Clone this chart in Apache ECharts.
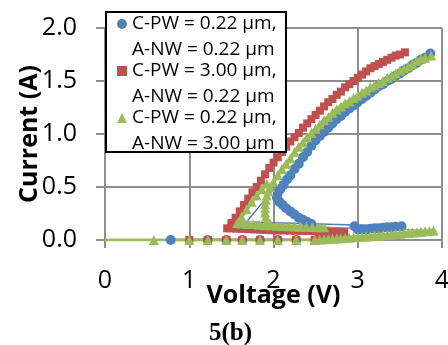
<!DOCTYPE html>
<html>
<head>
<meta charset="utf-8">
<script src="https://cdn.jsdelivr.net/npm/echarts@6/dist/echarts.min.js"></script>
<style>
  html, body { margin: 0; padding: 0; background: #fff; }
  #chart { width: 448px; height: 345px; }
</style>
</head>
<body>
<div id="chart"></div>
<script>
// TLP I-V curves, values as [voltage (V), current (A)]
const xTicks = [0, 1, 2, 3, 4];
const yTicks = [0, 0.5, 1.0, 1.5, 2.0];

const legendLabels = {
  blue: 'C-PW = 0.22 µm,\nA-NW = 0.22 µm',
  red: 'C-PW = 3.00 µm,\nA-NW = 0.22 µm',
  green: 'C-PW = 0.22 µm,\nA-NW = 3.00 µm'
};

// C-PW = 0.22, A-NW = 0.22 (blue)
const blueBase = [[0.78, 0], [1.22, 0], [1.44, 0], [1.63, 0], [1.84, 0], [2.05, 0], [2.27, 0]];
const blueJump = [[3.52, 0.13], [1.68, 0.17], [2.0, 0.48]];
const blueRamp = [[2.96, 0.13], [3.0, 0.1], [3.05, 0.1], [3.1, 0.1], [3.15, 0.105], [3.2, 0.11], [3.25, 0.11],
  [3.3, 0.115], [3.35, 0.12], [3.4, 0.12], [3.45, 0.125], [3.52, 0.13]];
const blueMain = [[2.45, 0.15], [2.4, 0.17], [2.35, 0.19], [2.3, 0.21], [2.25, 0.24], [2.2, 0.27], [2.15, 0.3],
  [2.11, 0.33], [2.07, 0.36], [2.04, 0.4], [2.05, 0.44], [2.08, 0.48], [2.12, 0.52], [2.16, 0.57], [2.2, 0.61],
  [2.25, 0.67], [2.3, 0.72], [2.35, 0.78], [2.4, 0.83], [2.45, 0.89], [2.5, 0.94], [2.55, 0.98], [2.6, 1.02],
  [2.65, 1.06], [2.7, 1.1], [2.75, 1.14], [2.8, 1.17], [2.85, 1.21], [2.9, 1.24], [2.95, 1.27], [3.0, 1.3],
  [3.05, 1.33], [3.1, 1.36], [3.15, 1.39], [3.2, 1.42], [3.25, 1.45], [3.3, 1.47], [3.35, 1.5], [3.4, 1.52],
  [3.45, 1.55], [3.5, 1.57], [3.55, 1.6], [3.6, 1.62], [3.65, 1.65], [3.7, 1.67], [3.75, 1.7], [3.8, 1.72],
  [3.86, 1.76]];

// C-PW = 3.00, A-NW = 0.22 (red)
const redBase = [[1.0, 0], [1.22, 0], [1.44, 0], [1.63, 0], [1.84, 0], [2.05, 0], [2.27, 0], [2.49, 0]];
const redMain = [[2.49, 0], [2.53, 0.01], [2.57, 0.02], [2.61, 0.03], [2.65, 0.045], [2.69, 0.055], [2.73, 0.065],
  [2.78, 0.07], [2.84, 0.075], [2.78, 0.078], [2.7, 0.08], [2.62, 0.08], [2.55, 0.082], [2.48, 0.083],
  [2.4, 0.085], [2.33, 0.086], [2.26, 0.087], [2.19, 0.088], [2.12, 0.09], [2.05, 0.09], [1.98, 0.092],
  [1.91, 0.095], [1.84, 0.097], [1.77, 0.1], [1.7, 0.102], [1.63, 0.105], [1.56, 0.107], [1.5, 0.11],
  [1.45, 0.11], [1.5, 0.16], [1.55, 0.21], [1.6, 0.27], [1.65, 0.33], [1.7, 0.39], [1.75, 0.45], [1.8, 0.5],
  [1.85, 0.56], [1.9, 0.62], [1.95, 0.68], [2.0, 0.73], [2.05, 0.78], [2.1, 0.83], [2.15, 0.88], [2.2, 0.93],
  [2.25, 0.97], [2.3, 1.01], [2.35, 1.06], [2.4, 1.1], [2.45, 1.14], [2.5, 1.18], [2.55, 1.22], [2.6, 1.26],
  [2.65, 1.3], [2.7, 1.33], [2.75, 1.37], [2.8, 1.4], [2.85, 1.44], [2.9, 1.47], [2.95, 1.5], [3.0, 1.53],
  [3.05, 1.56], [3.1, 1.59], [3.15, 1.62], [3.2, 1.64], [3.25, 1.66], [3.3, 1.68], [3.35, 1.7], [3.4, 1.72],
  [3.45, 1.74], [3.5, 1.75], [3.56, 1.77]];

// C-PW = 0.22, A-NW = 3.00 (green)
const greenBase = [[0, 0], [0.58, 0], [1.0, 0], [1.22, 0], [1.44, 0], [1.63, 0], [1.84, 0], [2.05, 0], [2.27, 0], [2.49, 0]];
const greenRamp = [[2.49, 0], [2.55, 0.005], [2.6, 0.008], [2.65, 0.01], [2.7, 0.012], [2.75, 0.015], [2.8, 0.017],
  [2.85, 0.02], [2.9, 0.022], [2.95, 0.025], [3.0, 0.028], [3.05, 0.03], [3.1, 0.033], [3.15, 0.036], [3.2, 0.04],
  [3.25, 0.043], [3.3, 0.046], [3.35, 0.05], [3.4, 0.053], [3.45, 0.056], [3.5, 0.06], [3.55, 0.063], [3.6, 0.067],
  [3.65, 0.07], [3.7, 0.074], [3.75, 0.078], [3.8, 0.082], [3.85, 0.086], [3.9, 0.09]];
const greenJump = [[3.9, 0.09], [2.6, 0.12]];
const greenLow = [[2.6, 0.12], [2.53, 0.12], [2.46, 0.122], [2.39, 0.124], [2.32, 0.126], [2.25, 0.128], [2.18, 0.13],
  [2.11, 0.132], [2.04, 0.135], [1.97, 0.138], [1.9, 0.14], [1.83, 0.145], [1.76, 0.15], [1.69, 0.152],
  [1.62, 0.155], [1.57, 0.16], [1.62, 0.22], [1.68, 0.29], [1.74, 0.36], [1.8, 0.42], [1.86, 0.48], [1.92, 0.53]];
const greenMain = [[1.96, 0.15], [1.93, 0.18], [1.91, 0.22], [1.9, 0.26], [1.9, 0.3], [1.9, 0.34], [1.91, 0.38],
  [1.92, 0.42], [1.94, 0.46], [1.96, 0.5], [2.0, 0.55], [2.05, 0.61], [2.1, 0.67], [2.15, 0.72], [2.2, 0.77],
  [2.25, 0.83], [2.3, 0.88], [2.35, 0.92], [2.4, 0.97], [2.45, 1.01], [2.5, 1.05], [2.55, 1.09], [2.6, 1.13],
  [2.65, 1.16], [2.7, 1.2], [2.75, 1.23], [2.8, 1.26], [2.85, 1.29], [2.9, 1.31], [2.95, 1.34], [3.0, 1.36],
  [3.05, 1.39], [3.1, 1.41], [3.15, 1.44], [3.2, 1.46], [3.25, 1.48], [3.3, 1.5], [3.35, 1.53], [3.4, 1.55],
  [3.45, 1.57], [3.5, 1.6], [3.55, 1.62], [3.6, 1.64], [3.65, 1.66], [3.7, 1.69], [3.75, 1.71], [3.8, 1.72],
  [3.87, 1.74]];

const COLORS = { blue: '#4F81BD', red: '#C0504D', green: '#9BBB59' };
const MARKS = {
  blue: { symbol: 'circle', size: 10 },
  red: { symbol: 'rect', size: 8 },
  green: { symbol: 'triangle', size: 10 }
};
const GRID_COLOR = '#8e8e8e';
const FONT = 'Open Sans';

function line(key, data, width, marks) {
  return {
    type: 'line',
    name: key,
    data: data,
    symbol: marks ? MARKS[key].symbol : 'none',
    symbolSize: MARKS[key].size,
    showSymbol: marks,
    showAllSymbol: true,
    smooth: false,
    silent: true,
    animation: false,
    lineStyle: { color: COLORS[key], width: width },
    itemStyle: { color: COLORS[key], borderWidth: 0 }
  };
}

// green line starts at the origin without a marker
const greenBaseData = greenBase.map((p, i) => i === 0 ? { value: p, symbol: 'none' } : p);

const chart = echarts.init(document.getElementById('chart'), null, { renderer: 'canvas' });

chart.setOption({
  animation: false,
  grid: { left: 105, right: 6, top: 28, bottom: 105, containLabel: false, outerBoundsMode: 'none' },
  xAxis: {
    type: 'value',
    min: xTicks[0],
    max: xTicks[xTicks.length - 1],
    interval: xTicks[1] - xTicks[0],
    name: 'Voltage (V)',
    nameLocation: 'middle',
    nameGap: 43,
    nameMoveOverlap: false,
    nameTextStyle: { fontFamily: FONT, fontWeight: 'bold', fontSize: 25, color: '#000' },
    axisLine: { show: true, lineStyle: { color: GRID_COLOR, width: 2 } },
    axisTick: { show: true, inside: false, length: 8, lineStyle: { color: GRID_COLOR, width: 2 } },
    axisLabel: { fontFamily: FONT, fontSize: 25, color: '#000', margin: 28, hideOverlap: false },
    splitLine: { show: true, lineStyle: { color: GRID_COLOR, width: 2 } }
  },
  yAxis: {
    type: 'value',
    min: yTicks[0],
    max: yTicks[yTicks.length - 1],
    interval: yTicks[1] - yTicks[0],
    name: 'Current (A)',
    nameLocation: 'middle',
    nameGap: 63,
    nameMoveOverlap: false,
    nameTextStyle: { fontFamily: FONT, fontWeight: 'bold', fontSize: 25, color: '#000' },
    axisLine: { show: true, lineStyle: { color: GRID_COLOR, width: 2 } },
    axisTick: { show: true, inside: false, length: 9, lineStyle: { color: GRID_COLOR, width: 2 } },
    axisLabel: { fontFamily: FONT, fontSize: 25, color: '#000', margin: 28, formatter: v => v.toFixed(1) },
    splitLine: { show: true, lineStyle: { color: GRID_COLOR, width: 2 } }
  },
  title: {
    text: '5(b)',
    left: 209,
    top: 321,
    padding: 0,
    textStyle: { fontFamily: 'Liberation Serif', fontWeight: 'bold', fontSize: 25, color: '#000' }
  },
  // legend frame drawn behind the legend items, above the curves
  graphic: [{
    type: 'rect',
    z: 100,
    shape: { x: 106, y: 12, width: 180, height: 140 },
    style: { fill: '#fff', stroke: '#000', lineWidth: 2 }
  }],
  legend: {
    orient: 'vertical',
    left: 117,
    top: -15,
    padding: 0,
    z: 110,
    itemWidth: 10,
    itemHeight: 10,
    itemGap: -31,
    selectedMode: false,
    data: [
      { name: 'blue', icon: 'circle' },
      { name: 'red', icon: 'rect' },
      { name: 'green', icon: 'triangle' }
    ],
    // leading empty line puts the marker beside the first text line
    formatter: name => '\n' + legendLabels[name],
    textStyle: { fontFamily: FONT, fontSize: 19, color: '#000', lineHeight: 26 }
  },
  series: [
    line('blue', blueBase, 2.5, true),
    line('blue', blueJump, 1.5, false),
    line('blue', blueRamp, 4, true),
    line('blue', blueMain, 4, true),
    line('red', redBase, 2.5, true),
    line('red', redMain, 4, true),
    line('green', greenBaseData, 3, true),
    line('green', greenRamp, 4, true),
    line('green', greenJump, 1.5, false),
    line('green', greenLow, 4, true),
    line('green', greenMain, 4, true)
  ]
});
</script>
</body>
</html>
